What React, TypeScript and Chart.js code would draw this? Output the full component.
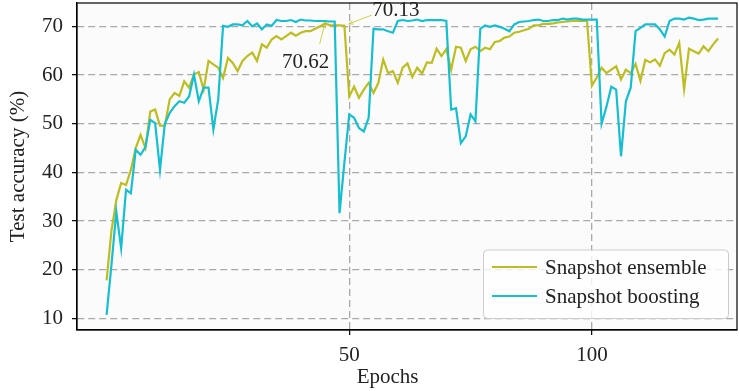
import React, { useEffect, useRef } from 'react';
import { Chart, registerables } from 'chart.js';

Chart.register(...registerables);

// ---------------- data ----------------
const SERIES_LABELS = ['Snapshot ensemble', 'Snapshot boosting'];

const ENSEMBLE = [
  17.8, 28.0, 34.3, 37.8, 37.4, 40.5, 45.0, 47.7, 45.0, 52.5,
  52.9, 49.6, 49.6, 55.0, 56.3, 55.7, 58.7, 57.4, 60.1, 60.6,
  57.0, 62.9, 62.2, 61.5, 59.4, 63.5, 62.5, 60.8, 62.9, 63.9,
  64.6, 62.9, 66.3, 65.6, 67.3, 68.0, 67.3, 68.0, 68.7, 68.1,
  68.7, 69.0, 69.0, 69.5, 70.0, 70.62, 70.2, 70.2, 70.2, 70.13,
  55.6, 57.6, 55.3, 57.0, 58.4, 56.3, 58.4, 63.2, 60.4, 60.8,
  58.4, 61.5, 62.4, 59.6, 61.5, 60.3, 62.6, 62.5, 65.4, 63.9,
  65.3, 61.1, 65.8, 65.6, 62.9, 65.3, 65.8, 64.9, 65.6, 65.3,
  66.8, 67.0, 67.7, 67.9, 68.7, 68.9, 69.2, 69.5, 70.2, 70.2,
  70.5, 70.5, 70.6, 70.8, 70.9, 71.0, 71.1, 71.1, 71.1, 71.1,
  57.8, 59.5, 61.5, 60.4, 61.1, 61.8, 59.1, 61.1, 60.4, 62.3,
  58.8, 63.1, 62.6, 63.2, 61.9, 64.5, 65.2, 64.2, 66.6, 57.1,
  65.4, 64.9, 64.4, 65.9, 64.9, 66.3, 67.5,
];

const BOOSTING = [
  10.7, 21.0, 31.9, 24.4, 36.4, 35.7, 44.6, 43.6, 45.2, 50.8,
  50.1, 40.5, 50.0, 52.2, 53.6, 54.6, 54.3, 55.6, 60.1, 54.6,
  57.4, 57.4, 48.8, 55.0, 70.1, 69.9, 70.4, 70.4, 70.2, 71.1,
  70.0, 70.6, 69.4, 70.4, 70.1, 71.3, 71.1, 71.1, 71.3, 70.9,
  71.4, 71.2, 71.2, 71.1, 71.1, 71.1, 71.0, 71.0, 31.6, 42.0,
  51.9, 51.2, 49.1, 48.4, 51.2, 69.5, 69.4, 69.4, 69.0, 68.7,
  71.1, 71.3, 71.1, 71.2, 71.4, 71.1, 71.3, 71.3, 71.3, 71.3,
  71.1, 52.9, 53.2, 46.0, 47.4, 51.9, 50.5, 69.5, 70.2, 69.9,
  70.2, 69.9, 69.5, 69.0, 70.4, 70.9, 71.0, 71.1, 71.3, 71.4,
  71.1, 71.1, 71.3, 71.3, 71.6, 71.4, 71.6, 71.6, 71.4, 71.4,
  71.4, 71.4, 50.0, 53.5, 57.6, 57.0, 43.3, 54.6, 57.4, 69.0,
  69.7, 70.4, 70.4, 70.4, 69.4, 67.9, 71.1, 71.6, 71.6, 71.4,
  71.8, 71.6, 71.3, 71.4, 71.6, 71.6, 71.6,
];

const X_TICKS = [50, 100];
const Y_TICKS = [10, 20, 30, 40, 50, 60, 70];
const X_TITLE = 'Epochs';
const Y_TITLE = 'Test accuracy (%)';

const ANNOTATIONS = [
  { label: '70.62', tipX: 45, tipY: 70.62, fromX: 43.9, fromY: 66.4, textX: 41.0, textY: 62.6 },
  { label: '70.13', tipX: 49.9, tipY: 70.5, fromX: 54.6, fromY: 72.3, textX: 59.6, textY: 73.3 },
];

// ---------------- styles ----------------
const FONT = "'Liberation Serif', 'Times New Roman', serif";
const OLIVE = '#bcbd22';
const CYAN = '#17becf';
const GRID = '#a9a9a9';
const TEXT = '#222222';

const framePlugin = {
  id: 'frame',
  beforeDraw(chart: any) {
    const { ctx, chartArea: a } = chart;
    ctx.save();
    ctx.fillStyle = '#fcfbfb';
    ctx.fillRect(a.left, a.top, a.right - a.left, a.bottom - a.top);
    ctx.restore();
  },
  afterDraw(chart: any) {
    const { ctx, chartArea: a, scales } = chart;
    ctx.save();
    // axes box
    ctx.strokeStyle = '#000';
    ctx.lineWidth = 1.2;
    ctx.strokeRect(a.left, a.top, a.right - a.left, a.bottom - a.top);

    // x axis title (placed as in the reference, left of the axes centre)
    ctx.fillStyle = TEXT;
    ctx.font = `21px ${FONT}`;
    ctx.textAlign = 'center';
    ctx.textBaseline = 'middle';
    ctx.fillText(X_TITLE, scales.x.getPixelForValue(57.9), 377);

    // legend
    const lw = 245, lh = 68.5;
    const lx = a.right - 8.5 - lw;
    const ly = a.bottom - 11.5 - lh;
    const r = 4;
    ctx.beginPath();
    ctx.moveTo(lx + r, ly);
    ctx.arcTo(lx + lw, ly, lx + lw, ly + lh, r);
    ctx.arcTo(lx + lw, ly + lh, lx, ly + lh, r);
    ctx.arcTo(lx, ly + lh, lx, ly, r);
    ctx.arcTo(lx, ly, lx + lw, ly, r);
    ctx.closePath();
    ctx.fillStyle = 'rgba(255,255,255,0.8)';
    ctx.fill();
    ctx.strokeStyle = '#cccccc';
    ctx.lineWidth = 1;
    ctx.stroke();
    const colors = [OLIVE, CYAN];
    SERIES_LABELS.forEach((lab, i) => {
      const yy = ly + 17 + i * 29;
      ctx.beginPath();
      ctx.strokeStyle = colors[i];
      ctx.lineWidth = 2.2;
      ctx.moveTo(lx + 8.5, yy);
      ctx.lineTo(lx + 53.5, yy);
      ctx.stroke();
      ctx.fillStyle = TEXT;
      ctx.font = `21px ${FONT}`;
      ctx.textAlign = 'left';
      ctx.textBaseline = 'middle';
      ctx.fillText(lab, lx + 61.5, yy + 1);
    });

    // annotations
    const xs = scales.x, ys = scales.y;
    ANNOTATIONS.forEach((an) => {
      const tx = xs.getPixelForValue(an.tipX), ty = ys.getPixelForValue(an.tipY);
      const fx = xs.getPixelForValue(an.fromX), fy = ys.getPixelForValue(an.fromY);
      ctx.strokeStyle = 'rgba(188,189,34,0.75)';
      ctx.lineWidth = 1;
      ctx.beginPath();
      ctx.moveTo(fx, fy);
      ctx.lineTo(tx, ty);
      ctx.stroke();
      const ang = Math.atan2(ty - fy, tx - fx);
      const hl = 5;
      ctx.beginPath();
      ctx.moveTo(tx - hl * Math.cos(ang - 0.4), ty - hl * Math.sin(ang - 0.4));
      ctx.lineTo(tx, ty);
      ctx.lineTo(tx - hl * Math.cos(ang + 0.4), ty - hl * Math.sin(ang + 0.4));
      ctx.stroke();
      ctx.fillStyle = TEXT;
      ctx.font = `21px ${FONT}`;
      ctx.textAlign = 'center';
      ctx.textBaseline = 'middle';
      ctx.fillText(an.label, xs.getPixelForValue(an.textX), ys.getPixelForValue(an.textY));
    });
    ctx.restore();
  },
};

export default function App() {
  const ref = useRef<HTMLCanvasElement | null>(null);

  useEffect(() => {
    document.body.style.margin = '0';
    const canvas = ref.current;
    if (!canvas) return;
    const chart = new Chart(canvas, {
      type: 'line',
      data: {
        datasets: [
          {
            label: SERIES_LABELS[0],
            data: ENSEMBLE.map((v, i) => ({ x: i, y: v })),
            borderColor: OLIVE,
            borderWidth: 2.2,
            pointRadius: 0,
            tension: 0,
            order: 2,
          },
          {
            label: SERIES_LABELS[1],
            data: BOOSTING.map((v, i) => ({ x: i, y: v })),
            borderColor: CYAN,
            borderWidth: 2.2,
            pointRadius: 0,
            tension: 0,
            order: 1,
          },
        ],
      },
      options: {
        animation: false,
        responsive: false,
        devicePixelRatio: 1,
        layout: { padding: { top: 3, right: 2, left: 0, bottom: 0 } },
        plugins: { legend: { display: false }, tooltip: { enabled: false } },
        scales: {
          x: {
            type: 'linear',
            min: -6.1,
            max: 129.9,
            afterBuildTicks: (s: any) => { s.ticks = X_TICKS.map((v) => ({ value: v })); },
            afterFit: (s: any) => { s.height = 61; s.paddingLeft = 0; s.paddingRight = 0; },
            ticks: { color: TEXT, font: { family: FONT, size: 21 }, padding: 8, maxRotation: 0 },
            grid: { color: GRID, lineWidth: 1.3, tickColor: '#000', tickLength: 5, tickWidth: 1.2, tickBorderDash: [] },
            border: { display: true, color: '#000', width: 1.2, dash: [7, 4] },
            title: { display: false },
          },
          y: {
            type: 'linear',
            min: 7.6,
            max: 74.8,
            afterBuildTicks: (s: any) => { s.ticks = Y_TICKS.map((v) => ({ value: v })); },
            afterFit: (s: any) => { s.width = 77; s.paddingTop = 0; s.paddingBottom = 0; },
            ticks: { color: TEXT, font: { family: FONT, size: 21 }, padding: 9 },
            grid: { color: GRID, lineWidth: 1.3, tickColor: '#000', tickLength: 5, tickWidth: 1.2, tickBorderDash: [] },
            border: { display: true, color: '#000', width: 1.2, dash: [7, 4] },
            title: { display: true, text: Y_TITLE, color: TEXT, font: { family: FONT, size: 21 }, padding: { top: 6, bottom: 0 } },
          },
        },
      } as any,
      plugins: [framePlugin],
    });
    return () => chart.destroy();
  }, []);

  return (
    <div style={{ width: 739, height: 391 }}>
      <canvas ref={ref} width={739} height={391} style={{ display: 'block' }} />
    </div>
  );
}
